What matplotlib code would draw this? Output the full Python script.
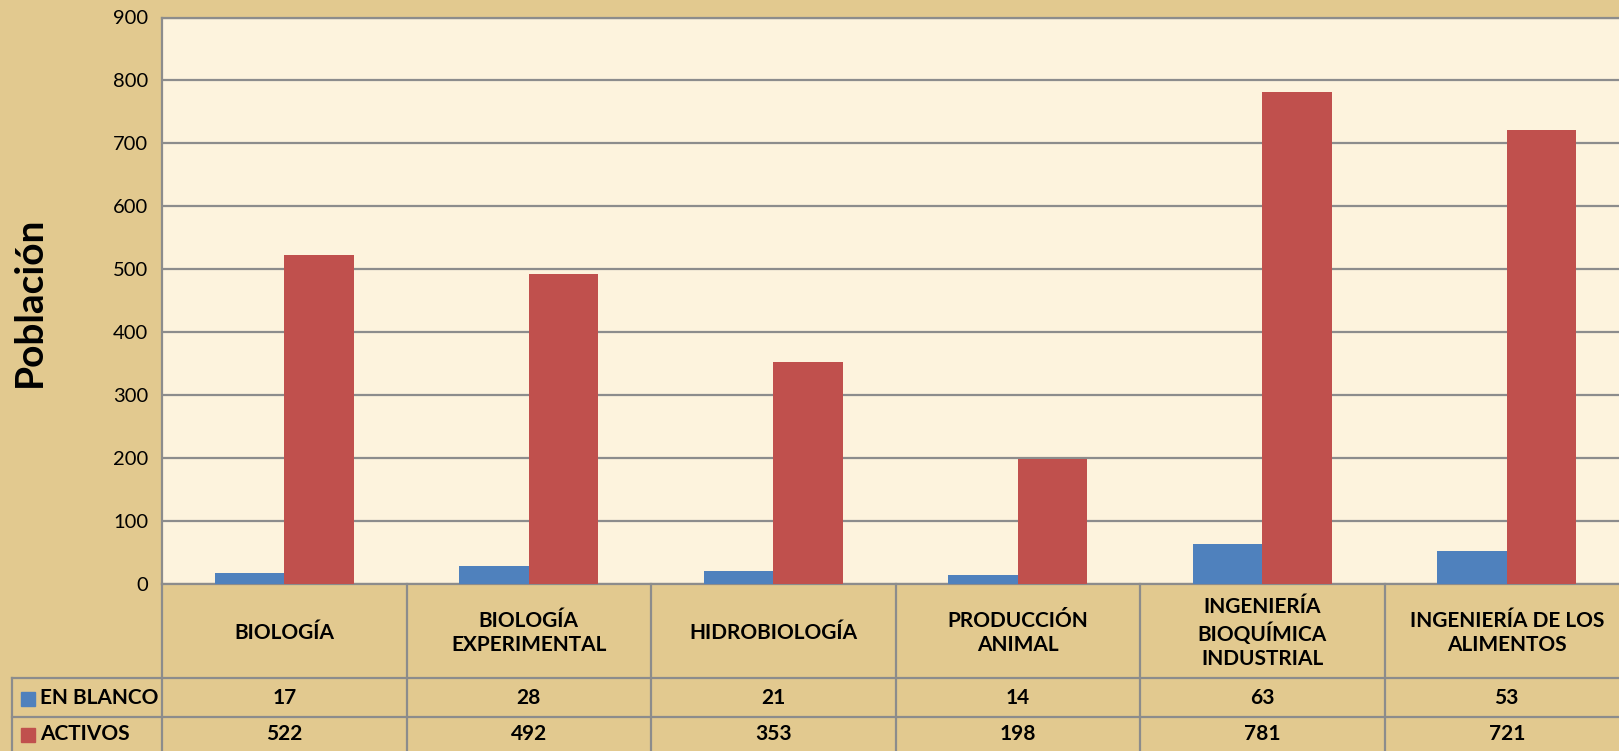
import matplotlib
matplotlib.use("Agg")
import matplotlib.pyplot as plt
from matplotlib.transforms import blended_transform_factory
from matplotlib.patches import Rectangle

categories = ["BIOLOGÍA", "BIOLOGÍA\nEXPERIMENTAL", "HIDROBIOLOGÍA", "PRODUCCIÓN\nANIMAL",
              "INGENIERÍA\nBIOQUÍMICA\nINDUSTRIAL", "INGENIERÍA DE LOS\nALIMENTOS"]
series_names = ["EN BLANCO", "ACTIVOS"]
en_blanco = [17, 28, 21, 14, 63, 53]
activos = [522, 492, 353, 198, 781, 721]
yticks = [0, 100, 200, 300, 400, 500, 600, 700, 800, 900]

colors = ["#4F81BD", "#C0504D"]
FONT = ["Lato", "DejaVu Sans"]
plt.rcParams['font.family'] = FONT

W, H = 1619, 751
fig = plt.figure(figsize=(W / 100, H / 100), dpi=100)
fig.patch.set_facecolor("#E2C98F")

left, right, top, zero = 162, 1629, 17.5, 584
ax = fig.add_axes([left / W, (H - zero) / H, (right - left) / W, (zero - top) / H])
ax.set_facecolor("#FDF3DD")

n = len(categories)
x = list(range(n))
bw = 0.284
ax.bar([i - bw / 2 for i in x], en_blanco, width=bw, color=colors[0], zorder=3)
ax.bar([i + bw / 2 for i in x], activos, width=bw, color=colors[1], zorder=3)

ax.set_xlim(-0.5, n - 0.5)
ax.set_ylim(0, 900)
ax.set_yticks(yticks)
ax.set_yticklabels([str(v) for v in yticks], fontsize=14.5)
ax.tick_params(axis='y', length=0, pad=10)
ax.tick_params(axis='x', length=0, labelbottom=False)
ax.grid(axis='y', color="#8C8C8C", linewidth=1.6, zorder=1)
for s in ["right", "bottom"]:
    ax.spines[s].set_visible(False)
ax.spines["top"].set_color("#8C8C8C")
ax.spines["top"].set_linewidth(1.6)
ax.spines["left"].set_color("#8C8C8C")
ax.spines["left"].set_linewidth(1.6)

fig.text(29 / W, (H - 302) / H, "Población", rotation=90, ha="center", va="center",
         fontsize=28, fontweight="bold")

# Data table below
tr = blended_transform_factory(ax.transData, fig.transFigure)
def fy(py):
    return (H - py) / H

grid_c = "#8C8C8C"
lw = 1.6
row_hdr_bottom = 678
row1_bottom = 717
row2_bottom = 756
fs = 15

ax.plot([-0.5, n - 0.5], [fy(zero), fy(zero)], transform=tr, color=grid_c, lw=lw, clip_on=False)
for yy in [row_hdr_bottom, row1_bottom]:
    ax.plot([12 / W, right / W], [fy(yy), fy(yy)], transform=fig.transFigure, color=grid_c, lw=lw, clip_on=False)
for i in range(n + 1):
    xv = i - 0.5
    ax.plot([xv, xv], [fy(zero), fy(row2_bottom)], transform=tr, color=grid_c, lw=lw, clip_on=False)
ax.plot([12 / W, 12 / W], [fy(row_hdr_bottom), fy(row2_bottom)], transform=fig.transFigure,
        color=grid_c, lw=lw, clip_on=False)

for i, c in enumerate(categories):
    ax.text(i, fy((zero + row_hdr_bottom) / 2 + 2), c, transform=tr, ha="center", va="center",
            fontsize=fs, fontweight="bold", linespacing=1.25, clip_on=False)
    ax.text(i, fy((row_hdr_bottom + row1_bottom) / 2 + 1), str(en_blanco[i]), transform=tr,
            ha="center", va="center", fontsize=fs, fontweight="bold", clip_on=False)
    ax.text(i, fy((row1_bottom + row2_bottom) / 2 - 2), str(activos[i]), transform=tr,
            ha="center", va="center", fontsize=fs, fontweight="bold", clip_on=False)

for name, col, yy in zip(series_names, colors,
                         [(row_hdr_bottom + row1_bottom) / 2 + 1,
                          (row1_bottom + row2_bottom) / 2 - 2]):
    fig.patches.append(Rectangle((21 / W, fy(yy + 7)), 14 / W, 14 / H, transform=fig.transFigure,
                                 color=col, figure=fig))
    fig.text(40 / W, fy(yy), name, ha="left", va="center", fontsize=fs, fontweight="bold")

fig.savefig("out.png", dpi=100, facecolor=fig.get_facecolor())
